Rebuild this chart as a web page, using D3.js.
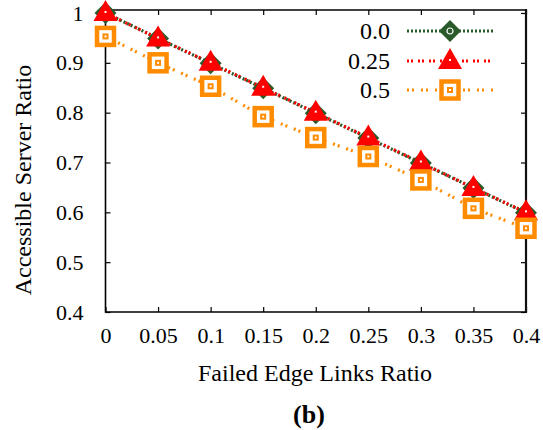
<!DOCTYPE html>
<html><head><meta charset="utf-8">
<script src="https://cdn.jsdelivr.net/npm/d3@7"></script>
<style>body{margin:0;background:#fff}svg{display:block}text{font-family:"Liberation Serif","Times New Roman",serif}</style>
</head><body><svg id="c" width="543" height="430"></svg>
<script>
const xValues = [0, 0.05, 0.1, 0.15, 0.2, 0.25, 0.3, 0.35, 0.4];
const xTickLabels = ["0", "0.05", "0.1", "0.15", "0.2", "0.25", "0.3", "0.35", "0.4"];
const yTicks = [0.4, 0.5, 0.6, 0.7, 0.8, 0.9, 1.0];
const yTickLabels = ["0.4", "0.5", "0.6", "0.7", "0.8", "0.9", "1"];
const seriesNames = ["0.0", "0.25", "0.5"];
const series00 = [1.0, 0.949, 0.899, 0.849, 0.799, 0.749, 0.699, 0.649, 0.599];
const series025 = [1.0, 0.949, 0.9, 0.85, 0.8, 0.75, 0.7, 0.649, 0.6];
const series05 = [0.953, 0.9, 0.853, 0.792, 0.75, 0.712, 0.665, 0.608, 0.568];

const svg = d3.select("#c");
const L = 105.5, R = 526, T = 10, B = 312;
const x = d3.scaleLinear().domain([0, 0.4]).range([L, R]);
const y = d3.scaleLinear().domain([0.4, 1.006]).range([B, T]);

const tl = 5;
const g = svg.append("g");
g.append("g").attr("transform", `translate(0,${B})`)
  .call(d3.axisBottom(x).tickValues(xValues).tickSizeInner(-tl).tickSizeOuter(0).tickFormat((d,i)=>xTickLabels[i]).tickPadding(15))
  .call(a=>{a.select(".domain").remove();a.selectAll("line").attr("stroke","#000").attr("stroke-width",1.2);
    a.selectAll("text").attr("font-size",22).attr("fill","#000");});
g.append("g").attr("transform", `translate(0,${T})`)
  .call(d3.axisTop(x).tickValues(xValues).tickSizeInner(-tl).tickSizeOuter(0).tickFormat(""))
  .call(a=>{a.select(".domain").remove();a.selectAll("line").attr("stroke","#000").attr("stroke-width",1.2);});
g.append("g").attr("transform", `translate(${L},0)`)
  .call(d3.axisLeft(y).tickValues(yTicks).tickSizeInner(-tl).tickSizeOuter(0).tickFormat((d,i)=>yTickLabels[i]).tickPadding(22))
  .call(a=>{a.select(".domain").remove();a.selectAll("line").attr("stroke","#000").attr("stroke-width",1.2);
    a.selectAll("text").attr("font-size",22).attr("fill","#000");});
g.append("g").attr("transform", `translate(${R},0)`)
  .call(d3.axisRight(y).tickValues(yTicks).tickSizeInner(-tl).tickSizeOuter(0).tickFormat(""))
  .call(a=>{a.select(".domain").remove();a.selectAll("line").attr("stroke","#000").attr("stroke-width",1.2);});

svg.append("path").attr("d",`M${L},${T}H${R}`).attr("stroke","#000").attr("stroke-width",1.5);
svg.append("path").attr("d",`M${L},${T}V${B}H${R}`).attr("stroke","#000").attr("stroke-width",1.6).attr("fill","none");
svg.append("path").attr("d",`M${R},${T-1}V${B+1}`).attr("stroke","#111").attr("stroke-width",2.2);

const specs = [
  {name: seriesNames[0], vals: series00, color: "#2a5a2a", dash: "2,2", shape: "diamond"},
  {name: seriesNames[1], vals: series025, color: "#ff0000", dash: "2,2,2,5", shape: "triangle"},
  {name: seriesNames[2], vals: series05, color: "#ff8c00", dash: "2,3,2,7", shape: "square"}
];

const line = d3.line().x((d,i)=>x(xValues[i])).y(d=>y(d));
specs.forEach(s=>{
  svg.append("path").datum(s.vals).attr("d",line).attr("fill","none")
    .attr("stroke",s.color).attr("stroke-width",3.2).attr("stroke-dasharray",s.dash);
});

function marker(sel, s, cx, cy){
  const gg = sel.append("g").attr("transform",`translate(${cx},${cy})`);
  if (s.shape==="diamond"){
    gg.append("path").attr("d","M0,-11L11,0L0,11L-11,0Z").attr("fill",s.color);
    gg.append("circle").attr("r",3).attr("fill","none").attr("stroke","#fff").attr("stroke-width",1.2);
  } else if (s.shape==="triangle"){
    gg.append("path").attr("d","M0,-13L12,8L-12,8Z").attr("fill",s.color);
    gg.append("rect").attr("x",-1).attr("y",-2).attr("width",2).attr("height",2).attr("fill","#fff");
  } else {
    gg.append("rect").attr("x",-8.5).attr("y",-8.5).attr("width",17).attr("height",17)
      .attr("fill","#fff").attr("stroke",s.color).attr("stroke-width",4.5);
    gg.append("rect").attr("x",-3).attr("y",-3).attr("width",6).attr("height",6).attr("fill",s.color);
    gg.append("rect").attr("x",-1).attr("y",-1).attr("width",2).attr("height",2).attr("fill","#fff");
  }
}
specs.forEach(s=>{
  s.vals.forEach((v,i)=>marker(svg, s, x(xValues[i]), y(v)));
});

const legY = [31, 61, 90];
specs.forEach((s,i)=>{
  svg.append("text").attr("x",390).attr("y",legY[i]).attr("dy","0.35em").attr("text-anchor","end")
    .attr("font-size",24).attr("fill","#000").text(s.name);
  svg.append("path").attr("d",`M407,${legY[i]}H493`).attr("stroke",s.color).attr("stroke-width",3.2)
    .attr("stroke-dasharray",s.dash).attr("fill","none");
  marker(svg, s, 450, legY[i]);
});

svg.append("text").attr("x",315).attr("y",373).attr("dy","0.35em").attr("text-anchor","middle")
  .attr("font-size",24).attr("fill","#000").text("Failed Edge Links Ratio");
svg.append("text").attr("transform","translate(23,180) rotate(-90)").attr("dy","0.35em").attr("text-anchor","middle")
  .attr("font-size",24).attr("fill","#000").text("Accessible Server Ratio");
svg.append("text").attr("x",309).attr("y",414).attr("dy","0.35em").attr("text-anchor","middle")
  .attr("font-size",26).attr("font-weight","bold").attr("fill","#000").text("(b)");
</script></body></html>
